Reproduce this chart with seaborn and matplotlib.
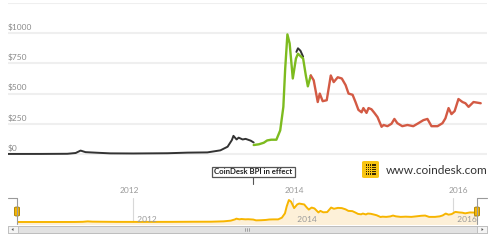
import numpy as np
import pandas as pd
import matplotlib
matplotlib.use("Agg")
import matplotlib.pyplot as plt
import matplotlib.dates as mdates
from matplotlib.patches import FancyBboxPatch, Rectangle, Polygon
import seaborn as sns

sns.set_style("white")
plt.rcParams['font.family'] = ['Lato', 'DejaVu Sans']

# ---- data ----
black_dates = ["2010-07-18", "2010-12-10", "2011-04-08", "2011-05-15", "2011-06-06",
               "2011-06-28", "2011-08-20", "2011-10-16", "2012-01-26", "2012-06-27",
               "2012-09-24", "2012-12-21", "2013-02-17", "2013-03-21", "2013-04-09",
               "2013-04-16", "2013-04-30", "2013-05-09", "2013-05-27", "2013-06-09",
               "2013-07-02", "2013-07-15"]
black_values = [0.1, 0.3, 1.5, 8, 28, 15, 10, 5, 4, 6, 11, 13, 30, 60, 115,
                150, 120, 135, 120, 125, 110, 95]

gox_dates = ["2014-01-21", "2014-01-28", "2014-02-08", "2014-02-20"]
gox_values = [845, 875, 855, 805]

green_dates = ["2013-07-15", "2013-08-07", "2013-08-29", "2013-09-13", "2013-10-01",
               "2013-10-24", "2013-11-10", "2013-11-24", "2013-12-02", "2013-12-12",
               "2013-12-22", "2014-01-05", "2014-01-19", "2014-01-28", "2014-02-20",
               "2014-03-04", "2014-03-13", "2014-03-26"]
green_values = [74, 80, 93, 112, 118, 118, 195, 390, 700, 990, 915, 625, 790, 830,
                790, 650, 560, 650]

red_dates = ["2014-03-26", "2014-04-08", "2014-04-26", "2014-05-05", "2014-05-18",
             "2014-06-05", "2014-06-23", "2014-07-06", "2014-07-24", "2014-08-11",
             "2014-08-28", "2014-09-10", "2014-09-28", "2014-10-11", "2014-10-24",
             "2014-11-07", "2014-11-15", "2014-11-29", "2014-12-08", "2014-12-21",
             "2015-01-03", "2015-01-17", "2015-02-04", "2015-02-13", "2015-03-02",
             "2015-03-20", "2015-04-02", "2015-04-15", "2015-05-07", "2015-05-30",
             "2015-06-25", "2015-07-18", "2015-08-09", "2015-08-27", "2015-09-14",
             "2015-10-11", "2015-11-02", "2015-11-15", "2015-11-29", "2015-12-12",
             "2015-12-26", "2016-01-12", "2016-01-30", "2016-02-12", "2016-02-26",
             "2016-03-19", "2016-04-20"]
red_values = [650, 610, 430, 500, 437, 445, 650, 595, 635, 625, 570, 500, 490, 430,
              365, 345, 380, 340, 380, 370, 340, 305, 225, 240, 230, 250, 290, 255,
              230, 240, 230, 255, 280, 290, 230, 230, 255, 295, 380, 330, 355, 455,
              430, 420, 390, 430, 420]

y_ticks = [0, 250, 500, 750, 1000]
y_labels = ["$0", "$250", "$500", "$750", "$1000"]
nav_years = ["2012", "2014", "2016"]
annotation_text = "CoinDesk BPI in effect"
site_text = "www.coindesk.com"

W, H = 499, 243
fig = plt.figure(figsize=(W / 100, H / 100), dpi=100)
fig.patch.set_facecolor("white")


def px_axes(l, t, r, b):
    return fig.add_axes([l / W, 1 - b / H, (r - l) / W, (b - t) / H])


def fx(x):
    return x / W


def fy(y):
    return 1 - y / H


BLACK = "#333333"
GREEN = "#7dbb1f"
RED = "#d35a44"
YEL = "#f7b500"

# ---- main chart ----
ax = px_axes(8, 3, 487, 160)
ax.set_facecolor("none")
for lvl in [0, 250, 500, 750, 1000, 1250]:
    ax.axhline(lvl, color="#efefef", lw=1.5, zorder=0)
for v, lab in zip(y_ticks, y_labels):
    ax.text(0.0, v + 18, lab, transform=ax.get_yaxis_transform(), ha="left",
            va="bottom", fontsize=6, color="#8a8a8a")

df_b = pd.DataFrame({"date": pd.to_datetime(black_dates), "v": black_values})
df_g = pd.DataFrame({"date": pd.to_datetime(green_dates), "v": green_values})
df_x = pd.DataFrame({"date": pd.to_datetime(gox_dates), "v": gox_values})
df_r = pd.DataFrame({"date": pd.to_datetime(red_dates), "v": red_values})

sns.lineplot(data=df_b, x="date", y="v", ax=ax, color=BLACK, lw=1.4)
sns.lineplot(data=df_x, x="date", y="v", ax=ax, color=BLACK, lw=1.4)
sns.lineplot(data=df_g, x="date", y="v", ax=ax, color=GREEN, lw=1.7)
sns.lineplot(data=df_r, x="date", y="v", ax=ax, color=RED, lw=1.7)

x0 = pd.Timestamp("2010-07-18")
x1 = pd.Timestamp("2016-05-18")
ax.set_xlim(x0, x1)
ax.set_ylim(-50, 1250)
ax.set_xticks([])
ax.set_yticks([])
ax.set_xlabel("")
ax.set_ylabel("")
for s in ax.spines.values():
    s.set_visible(False)

# ---- navigator ----
nav = px_axes(17, 196, 477, 224)
nav.set_facecolor("none")
df_all = pd.concat([df_b, df_g, df_r]).sort_values("date").drop_duplicates("date")
nav.fill_between(df_all["date"], df_all["v"], -200, color="#fdf0d8", lw=0, zorder=1)
sns.lineplot(data=df_all, x="date", y="v", ax=nav, color=YEL, lw=1.4, zorder=3)
nav.set_xlim(pd.Timestamp("2010-07-18"), pd.Timestamp("2016-04-20"))
nav.set_ylim(-90, 1170)
for yr in nav_years:
    d = pd.Timestamp(f"{yr}-01-01")
    nav.axvline(d, ymin=0.07, ymax=0.93, color="#d8d8d8", lw=0.8, zorder=0)
    nav.text(d, 120, "  " + yr, fontsize=6, color="#9a9a9a", ha="left",
             va="center", zorder=4)
nav.set_xticks([])
nav.set_yticks([])
nav.set_xlabel("")
nav.set_ylabel("")
for s in nav.spines.values():
    s.set_visible(False)

# main-chart year labels above navigator
for yr in nav_years:
    d = pd.Timestamp(f"{yr}-01-01")
    xpix = 8 + (mdates.date2num(d) - mdates.date2num(x0)) / (
        mdates.date2num(x1) - mdates.date2num(x0)) * 479
    fig.text(fx(xpix + 2), fy(190), yr, fontsize=6, color="#9a9a9a",
             ha="center", va="center")

# bracket lines and handles
for xa, xb in [(8, 17), (477, 487)]:
    fig.add_artist(plt.Line2D([fx(xa), fx(xb)], [fy(198), fy(198)],
                              color="#9a9a9a", lw=0.8))
for xh in [17, 477]:
    fig.add_artist(plt.Line2D([fx(xh), fx(xh)], [fy(198), fy(224)],
                              color="#9a9a9a", lw=0.8))
    fig.add_artist(FancyBboxPatch((fx(xh - 2.5), fy(216)), fx(5), (9 / H),
                                  boxstyle="round,pad=0,rounding_size=0.004",
                                  fc=YEL, ec="#a07a00", lw=0.6))

# scrollbar
fig.add_artist(Rectangle((fx(8), fy(233)), fx(479), 7 / H, fc="#ececec",
                         ec="#bbbbbb", lw=0.6))
fig.add_artist(Rectangle((fx(17), fy(233)), fx(460), 7 / H, fc="#e2e2e2",
                         ec="#bbbbbb", lw=0.6))
for xa in [8, 477]:
    fig.add_artist(Rectangle((fx(xa), fy(233)), fx(10), 7 / H, fc="#f4f4f4",
                             ec="#bbbbbb", lw=0.6))
fig.add_artist(Polygon([[fx(11.5), fy(229.5)], [fx(13.5), fy(228)], [fx(13.5), fy(231)]],
                       closed=True, fc="#555555", ec="none"))
fig.add_artist(Polygon([[fx(483.5), fy(229.5)], [fx(481.5), fy(228)], [fx(481.5), fy(231)]],
                       closed=True, fc="#555555", ec="none"))
for gx in [245, 247, 249]:
    fig.add_artist(plt.Line2D([fx(gx), fx(gx)], [fy(228), fy(231)],
                              color="#888888", lw=0.5))

# annotation box
fig.text(fx(253.5), fy(172), annotation_text, fontsize=5.6, fontweight="bold",
         color="#222222", ha="center", va="center",
         bbox=dict(boxstyle="square,pad=0.25", fc="white", ec="#555555", lw=0.9))
fig.add_artist(plt.Line2D([fx(253), fx(253)], [fy(177), fy(184)],
                          color="#555555", lw=0.8))

# logo
fig.add_artist(FancyBboxPatch((fx(362), fy(178)), fx(17), 17 / H,
                              boxstyle="round,pad=0,rounding_size=0.005",
                              fc="#f9c513", ec="none"))
for i in range(5):
    for j in range(5):
        fig.add_artist(Rectangle((fx(365.5 + i * 2.2), fy(174.5 - j * 2.2)),
                                 fx(1.4), 1.4 / H, fc="#3a2a00", ec="none"))
fig.text(fx(386), fy(170), site_text, fontsize=8.6, color="#333333",
         ha="left", va="center")

fig.savefig("out.png", dpi=100, facecolor="white")
